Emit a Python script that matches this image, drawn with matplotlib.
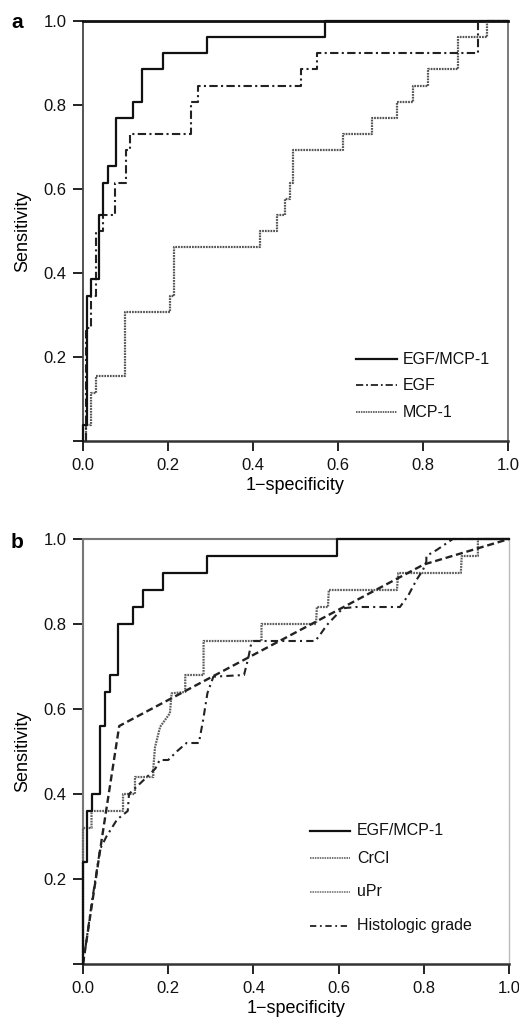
import matplotlib
matplotlib.use("Agg")
import matplotlib.pyplot as plt
from matplotlib.lines import Line2D

plt.rcParams['font.family'] = ['Liberation Sans', 'DejaVu Sans']

# ---------------- Panel a data (ROC step curves, steps-post corners) ----------------
a_egfmcp_fpr = [0, 0, 0.01, 0.018, 0.038, 0.047, 0.059, 0.078, 0.118, 0.139, 0.188, 0.292, 0.569, 1.0]
a_egfmcp_tpr = [0, 0.038, 0.346, 0.385, 0.538, 0.615, 0.654, 0.769, 0.808, 0.885, 0.923, 0.962, 1.0, 1.0]

a_egf_fpr = [0.006, 0.006, 0.018, 0.03, 0.047, 0.075, 0.1, 0.11, 0.254, 0.27, 0.512, 0.55, 0.929, 1.0]
a_egf_tpr = [0, 0.269, 0.346, 0.5, 0.538, 0.615, 0.692, 0.731, 0.808, 0.846, 0.885, 0.923, 1.0, 1.0]

a_mcp_fpr = [0.007, 0.007, 0.018, 0.03, 0.099, 0.205, 0.213, 0.4165, 0.456, 0.475, 0.487, 0.495,
             0.6125, 0.679, 0.738, 0.777, 0.8125, 0.883, 0.95, 1.0]
a_mcp_tpr = [0, 0.038, 0.115, 0.154, 0.308, 0.346, 0.462, 0.5, 0.538, 0.577, 0.615, 0.692,
             0.731, 0.769, 0.808, 0.846, 0.885, 0.962, 1.0, 1.0]

a_labels = ['EGF/MCP-1', 'EGF', 'MCP-1']

# ---------------- Panel b data ----------------
b_egfmcp_fpr = [0, 0, 0.01, 0.02, 0.04, 0.052, 0.063, 0.083, 0.117, 0.14, 0.188, 0.292, 0.597, 1.0]
b_egfmcp_tpr = [0, 0.24, 0.36, 0.40, 0.56, 0.64, 0.68, 0.80, 0.84, 0.88, 0.92, 0.96, 1.0, 1.0]

b_crcl_fpr = [0, 0, 0.02, 0.02, 0.094, 0.094, 0.122, 0.122, 0.165, 0.165, 0.169, 0.181, 0.204, 0.208,
              0.24, 0.24, 0.283, 0.283, 0.419, 0.419, 0.547, 0.549, 0.575, 0.577, 0.737, 0.74,
              0.887, 0.889, 0.927, 0.927, 1.0]
b_crcl_tpr = [0, 0.32, 0.32, 0.36, 0.36, 0.40, 0.40, 0.44, 0.44, 0.46, 0.51, 0.558, 0.59, 0.637,
              0.64, 0.68, 0.68, 0.76, 0.76, 0.80, 0.80, 0.84, 0.84, 0.88, 0.88, 0.92,
              0.92, 0.96, 0.96, 1.0, 1.0]

b_upr_fpr = [0, 0.045, 0.085, 0.8, 1.0]
b_upr_tpr = [0, 0.30, 0.56, 0.94, 1.0]

b_hist_fpr = [0, 0.005, 0.02, 0.04, 0.055, 0.08, 0.105, 0.108, 0.15, 0.17, 0.18, 0.2, 0.22, 0.243,
              0.272, 0.282, 0.292, 0.306, 0.378, 0.388, 0.395, 0.40, 0.545, 0.556, 0.572, 0.587,
              0.61, 0.64, 0.744, 0.764, 0.783, 0.798, 0.806, 0.806, 0.83, 0.868, 1.0]
b_hist_tpr = [0, 0.033, 0.14, 0.27, 0.30, 0.34, 0.36, 0.40, 0.44, 0.46, 0.48, 0.48, 0.50, 0.52,
              0.52, 0.574, 0.637, 0.676, 0.68, 0.72, 0.755, 0.76, 0.76, 0.774, 0.797, 0.813,
              0.837, 0.84, 0.84, 0.868, 0.904, 0.927, 0.947, 0.96, 0.974, 1.0, 1.0]

b_labels = ['EGF/MCP-1', 'CrCl', 'uPr', 'Histologic grade']

ticks = [0.0, 0.2, 0.4, 0.6, 0.8, 1.0]
xtick_labels = ['0.0', '0.2', '0.4', '0.6', '0.8', '1.0']
ytick_labels = ['', '0.2', '0.4', '0.6', '0.8', '1.0']

# ---------------- styles ----------------
DOT = (0, (0.8, 0.45))
DASHDOT_A = (0, (4, 1.6, 1, 1.6))
DASHDOT_B = (0, (3.5, 2.0, 1, 2.0))
DASHED_B = (0, (3.0, 1.6))

fig = plt.figure(figsize=(5.19, 10.24), dpi=100)
ax_a = fig.add_axes([83/519, 1-441/1024, 425/519, 420/1024])
ax_b = fig.add_axes([83/519, 1-964/1024, 426/519, 425/1024])


def style_axes(ax):
    ax.set_xlim(0, 1)
    ax.set_ylim(0, 1)
    ax.set_xticks(ticks)
    ax.set_xticklabels(xtick_labels)
    ax.set_yticks(ticks)
    ax.set_yticklabels(ytick_labels)
    ax.tick_params(direction='out', length=7, width=1.3, colors='#111', labelsize=12, pad=5)
    ax.set_xlabel('1\u2212specificity', fontsize=13)
    ax.set_ylabel('Sensitivity', fontsize=13)
    ax.xaxis.set_label_coords(0.5, -0.085)
    ax.yaxis.set_label_coords(-0.122, 0.5)


style_axes(ax_a)
style_axes(ax_b)

# Panel a spines
ax_a.spines['left'].set_color('#444')
ax_a.spines['left'].set_linewidth(1.3)
ax_a.spines['right'].set_color('#555')
ax_a.spines['right'].set_linewidth(1.1)
ax_a.spines['top'].set_color('#111')
ax_a.spines['top'].set_linewidth(2.0)
ax_a.spines['bottom'].set_color('#333')
ax_a.spines['bottom'].set_linewidth(1.8)

# Panel b spines
ax_b.spines['left'].set_color('#777')
ax_b.spines['left'].set_linewidth(1.5)
ax_b.spines['left'].set_linestyle(DOT)
ax_b.spines['top'].set_color('#777')
ax_b.spines['top'].set_linewidth(1.5)
ax_b.spines['top'].set_linestyle(DOT)
ax_b.spines['right'].set_color('#bbb')
ax_b.spines['right'].set_linewidth(0.9)
ax_b.spines['right'].set_linestyle(DOT)
ax_b.spines['bottom'].set_color('#333')
ax_b.spines['bottom'].set_linewidth(1.8)

# Panel a curves
ax_a.plot(a_mcp_fpr, a_mcp_tpr, drawstyle='steps-post', color='#555', lw=1.6, ls=DOT,
          clip_on=False, zorder=3)
ax_a.plot(a_egf_fpr, a_egf_tpr, drawstyle='steps-post', color='#222', lw=1.5, ls=DASHDOT_A,
          clip_on=False, zorder=3)
ax_a.plot(a_egfmcp_fpr, a_egfmcp_tpr, drawstyle='steps-post', color='#111', lw=1.6,
          clip_on=False, zorder=4)

# Panel b curves
ax_b.plot(b_crcl_fpr, b_crcl_tpr, color='#5e5e5e', lw=1.6, ls=DOT, clip_on=False, zorder=3)
ax_b.plot(b_hist_fpr, b_hist_tpr, color='#222', lw=1.5, ls=DASHDOT_B, clip_on=False, zorder=3)
ax_b.plot(b_upr_fpr, b_upr_tpr, color='#222', lw=1.7, ls=DASHED_B, clip_on=False, zorder=3)
ax_b.plot(b_egfmcp_fpr, b_egfmcp_tpr, drawstyle='steps-post', color='#111', lw=1.6,
          clip_on=False, zorder=4)


def manual_legend(ax, x0, x1, xt, ys, labels, styles):
    for y, lab, (c, lw, ls) in zip(ys, labels, styles):
        ax.add_line(Line2D([x0, x1], [y, y], color=c, lw=lw, ls=ls, transform=ax.transAxes))
        ax.text(xt, y, lab, transform=ax.transAxes, fontsize=11.5, va='center', ha='left',
                color='#111')


manual_legend(ax_a, 0.642, 0.739, 0.752, [0.195, 0.133, 0.069], a_labels,
              [('#111', 1.6, '-'), ('#222', 1.3, DASHDOT_A), ('#666', 1.4, DOT)])
manual_legend(ax_b, 0.533, 0.627, 0.643, [0.313, 0.249, 0.170, 0.090], b_labels,
              [('#111', 1.6, '-'), ('#777', 1.4, DOT), ('#888', 1.4, DOT), ('#222', 1.3, DASHDOT_B)])

fig.text(17/519, 1-23/1024, 'a', fontsize=15, fontweight='bold', ha='center', va='center')
fig.text(17/519, 1-543/1024, 'b', fontsize=15, fontweight='bold', ha='center', va='center')

fig.savefig('out.png', dpi=100)
